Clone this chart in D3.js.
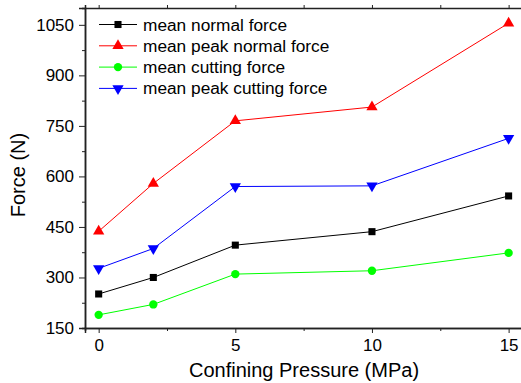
<!DOCTYPE html>
<html>
<head>
<meta charset="utf-8">
<script src="https://cdn.jsdelivr.net/npm/d3@7"></script>
<style>
  body { margin: 0; background: #fff; }
  svg { display: block; font-family: "Liberation Sans", Arial, sans-serif; }
  .domain { stroke: #222; stroke-width: 1.5px; }
  .tick line { stroke: #222; stroke-width: 1px; }
</style>
</head>
<body>
<div id="chart"></div>
<script>
var pressure = [0, 2, 5, 10, 15];
var seriesNames = ["mean normal force", "mean peak normal force", "mean cutting force", "mean peak cutting force"];
var normalForce = [251, 300, 396, 436, 542];
var peakNormalForce = [437, 579, 765, 806, 1055];
var cuttingForce = [189, 220, 310, 320, 373];
var peakCuttingForce = [327, 386, 570, 572, 713];
var yTicks = [150, 300, 450, 600, 750, 900, 1050];
var xTicks = [0, 5, 10, 15];

var colors = ["#000000", "#ff0000", "#00ff00", "#0000ff"];
var symbols = [d3.symbolSquare, d3.symbolTriangle, d3.symbolCircle, "down"];
var allValues = [normalForce, peakNormalForce, cuttingForce, peakCuttingForce];

var width = 521, height = 383;
var margin = {left: 85, top: 8, bottom: 55};

var svg = d3.select("#chart").append("svg")
  .attr("width", width)
  .attr("height", height);

var x = d3.scaleLinear().domain([-0.5, 15.5]).range([margin.left, margin.left + 16 * 27.33]);
var y = d3.scaleLinear().domain([150, 1100]).range([height - margin.bottom, margin.top]);

// minor ticks
var yMinor = d3.range(225, 1100, 150);
var xMinor = [2.5, 7.5, 12.5];

svg.append("g")
  .attr("transform", "translate(" + margin.left + ",0)")
  .call(d3.axisLeft(y).tickValues(yMinor).tickSize(3).tickFormat(""));
svg.append("g")
  .attr("transform", "translate(0," + y(150) + ")")
  .call(d3.axisBottom(x).tickValues(xMinor).tickSize(3).tickFormat(""));

var yAxis = svg.append("g")
  .attr("transform", "translate(" + margin.left + ",0)")
  .call(d3.axisLeft(y).tickValues(yTicks).tickSize(6).tickPadding(5).tickFormat(d3.format("d")));
yAxis.selectAll("text").style("font-size", "17px").attr("fill", "#000");

var xAxis = svg.append("g")
  .attr("transform", "translate(0," + y(150) + ")")
  .call(d3.axisBottom(x).tickValues(xTicks).tickSize(5).tickPadding(6));
xAxis.selectAll("text").style("font-size", "17px").attr("fill", "#000");

// top frame with outward ticks
svg.append("g")
  .attr("transform", "translate(0," + y(1100) + ")")
  .call(d3.axisTop(x).tickValues(xTicks.concat(xMinor)).tickSize(3).tickFormat(""));

// axis titles
svg.append("text")
  .attr("x", 304)
  .attr("y", 377)
  .attr("text-anchor", "middle")
  .style("font-size", "20px")
  .text("Confining Pressure (MPa)");

svg.append("text")
  .attr("transform", "translate(25," + 175 + ") rotate(-90)")
  .attr("text-anchor", "middle")
  .style("font-size", "20px")
  .text("Force (N)");

function markerPath(s) {
  if (s === "down") return d3.symbol().type(d3.symbolTriangle).size(55)();
  if (s === d3.symbolSquare) return d3.symbol().type(s).size(50)();
  return d3.symbol().type(s).size(55)();
}

var line = d3.line()
  .x(function(d) { return x(d[0]); })
  .y(function(d) { return y(d[1]); });

allValues.forEach(function(vals, i) {
  var pts = pressure.map(function(p, j) { return [p, vals[j]]; });
  svg.append("path")
    .datum(pts)
    .attr("fill", "none")
    .attr("stroke", colors[i])
    .attr("stroke-width", 1)
    .attr("d", line);
  svg.selectAll(".m" + i)
    .data(pts)
    .enter()
    .append("path")
    .attr("class", "m" + i)
    .attr("d", markerPath(symbols[i]))
    .attr("fill", colors[i])
    .attr("transform", function(d) {
      return "translate(" + x(d[0]) + "," + y(d[1]) + ")" + (symbols[i] === "down" ? " rotate(180)" : "");
    });
});

// legend
var legend = svg.selectAll(".legend")
  .data(seriesNames)
  .enter()
  .append("g")
  .attr("class", "legend")
  .attr("transform", function(d, i) { return "translate(99," + (24.5 + i * 21.3) + ")"; });

legend.append("line")
  .attr("x1", 0).attr("x2", 38)
  .attr("stroke", function(d, i) { return colors[i]; })
  .attr("stroke-width", 1);
legend.append("path")
  .attr("d", function(d, i) { return markerPath(symbols[i]); })
  .attr("fill", function(d, i) { return colors[i]; })
  .attr("transform", function(d, i) { return "translate(19,0)" + (symbols[i] === "down" ? " rotate(180)" : ""); });
legend.append("text")
  .attr("x", 44)
  .attr("dy", "0.35em")
  .style("font-size", "17.3px")
  .text(function(d) { return d; });
</script>
</body>
</html>
